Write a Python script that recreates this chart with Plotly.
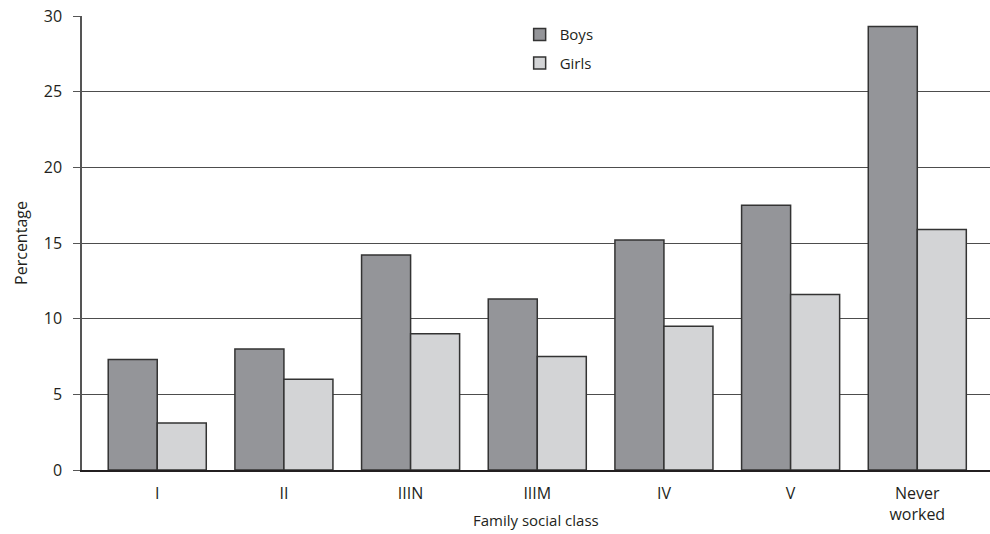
import plotly.graph_objects as go

categories = ["I", "II", "IIIN", "IIIM", "IV", "V", "Never<br>worked"]
boys = [7.3, 8.0, 14.2, 11.3, 15.2, 17.5, 29.3]
girls = [3.1, 6.0, 9.0, 7.5, 9.5, 11.6, 15.9]
y_ticks = [0, 5, 10, 15, 20, 25, 30]

FONT = "Open Sans"
TXT = "#231f20"

fig = go.Figure()
fig.add_trace(go.Bar(x=categories, y=boys, name="Boys", legendgroup="b",
                     marker=dict(color="#949599", line=dict(color="#333333", width=1.5))))
fig.add_trace(go.Bar(x=categories, y=girls, name="Girls", legendgroup="g",
                     marker=dict(color="#d3d4d6", line=dict(color="#333333", width=1.5))))

fig.add_annotation(text="Family social class", xref="paper", yref="paper",
                   x=0.5, y=0, xanchor="center", yanchor="middle", yshift=-50,
                   showarrow=False, font=dict(size=15, color=TXT))

fig.update_layout(
    width=990, height=534,
    margin=dict(l=82, r=0, t=16, b=64),
    plot_bgcolor="white", paper_bgcolor="white",
    barmode="group", bargap=0.226, bargroupgap=0,
    font=dict(family=FONT, size=15, color=TXT),
    legend=dict(x=0.482, y=0.995, xanchor="left", yanchor="top",
                bgcolor="rgba(0,0,0,0)", font=dict(size=15, color=TXT),
                tracegroupgap=6),
    xaxis=dict(range=[-0.594, 6.574], showline=True, linecolor="#231f20", linewidth=2,
               ticks="outside", ticklen=8, tickcolor="rgba(0,0,0,0)",
               tickfont=dict(size=16), showgrid=False, automargin=False),
    yaxis=dict(range=[0, 30], tickvals=y_ticks, showgrid=True, gridcolor="#4d4d4d", gridwidth=1,
               showline=True, linecolor="#555555", linewidth=1.5,
               ticks="outside", ticklen=7, tickcolor="#555555", tickwidth=1,
               zeroline=False, tickfont=dict(size=16), ticklabelstandoff=8,
               automargin=False,
               title=dict(text="Percentage", font=dict(size=16), standoff=12)),
)

fig.write_html("out.html", config={"displayModeBar": False},
               post_script="document.body.style.margin='0';")
